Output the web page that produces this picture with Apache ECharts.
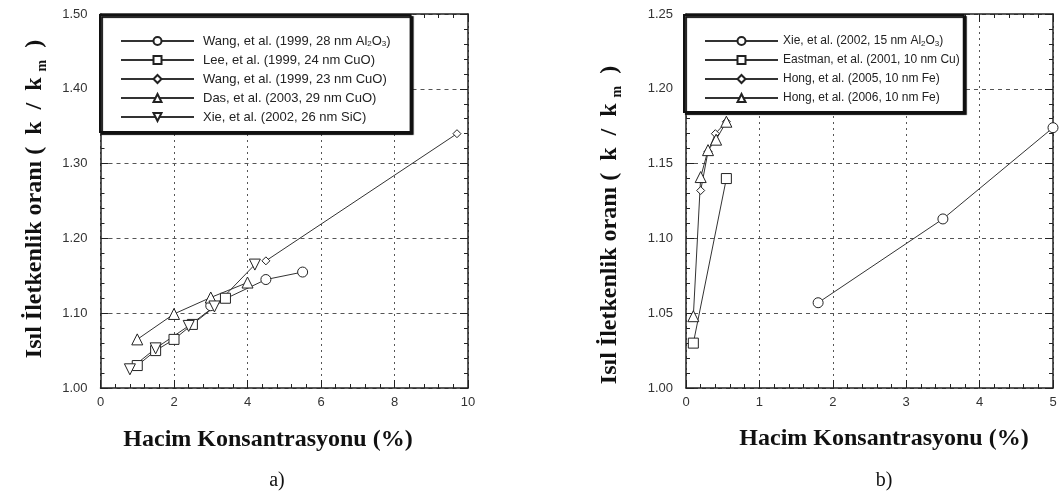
<!DOCTYPE html>
<html><head><meta charset="utf-8">
<script src="https://cdn.jsdelivr.net/npm/echarts@6/dist/echarts.min.js"></script>
<style>html,body{margin:0;padding:0;background:#fff}#c{width:1060px;height:499px}</style>
</head><body><div id="c"></div>
<script>
// ---- data (x = volume %, y = k/km) ----
const wangAl2O3 = [[3.0,1.110],[4.5,1.145],[5.5,1.155]];
const leeCuO    = [[1.0,1.030],[1.5,1.050],[2.0,1.065],[2.5,1.085],[3.4,1.120]];
const wangCuO   = [[4.5,1.170],[9.7,1.340]];
const dasCuO    = [[1.0,1.065],[2.0,1.099],[3.0,1.121],[4.0,1.141]];
const xieSiC    = [[0.8,1.025],[1.5,1.053],[2.4,1.083],[3.1,1.109],[4.2,1.165]];

const xieAl2O3   = [[1.8,1.057],[3.5,1.113],[5.0,1.174]];
const eastmanCu  = [[0.1,1.030],[0.55,1.140]];
const hong2005Fe = [[0.2,1.132],[0.3,1.158],[0.4,1.170],[0.55,1.178]];
const hong2006Fe = [[0.1,1.048],[0.2,1.141],[0.3,1.159],[0.41,1.166],[0.55,1.178]];

const namesA = ['Wang, et al. (1999, 28 nm Al2O3)','Lee, et al. (1999, 24 nm CuO)','Wang, et al. (1999, 23 nm CuO)','Das, et al. (2003, 29 nm CuO)','Xie, et al. (2002, 26 nm SiC)'];
const namesB = ['Xie, et al. (2002, 15 nm Al2O3)','Eastman, et al. (2001, 10 nm Cu)','Hong, et al. (2005, 10 nm Fe)','Hong, et al. (2006, 10 nm Fe)'];

const yTitle = 'Isıl İletkenlik oranı (  k  /  k ';
const xTitle = 'Hacim Konsantrasyonu (%)';

const chart = echarts.init(document.getElementById('c'));
const INK = '#222';

function ax(kind, gridIndex, min, max, interval, pos, main, dec) {
  return {
    type: 'value', gridIndex, position: pos, min, max, interval,
    axisLine: {show: true, onZero: false, lineStyle: {color: INK, width: 1.5}},
    axisTick: {show: true, inside: true, length: 8, lineStyle: {color: INK, width: 1}},
    minorTick: {show: true, splitNumber: 5, length: 4, lineStyle: {color: INK, width: 1}},
    axisLabel: {show: main, color: '#333', fontSize: 13, fontFamily: 'Liberation Sans, Arial',
      margin: kind === 'x' ? 8 : 13,
      formatter: v => dec ? v.toFixed(dec) : String(Math.round(v))},
    splitLine: {show: main, lineStyle: {color: '#555', width: 1, type: kind === 'x' ? [2, 4] : [4, 4]}},
    minorSplitLine: {show: false}
  };
}

function ser(name, data, xi, yi, symbol, size, rot) {
  return {
    name, type: 'line', data, xAxisIndex: xi, yAxisIndex: yi,
    symbol, symbolSize: size, symbolRotate: rot || 0, showAllSymbol: true,
    lineStyle: {color: '#333', width: 1},
    itemStyle: {color: '#fff', borderColor: '#222', borderWidth: 1},
    emphasis: {disabled: true}, z: 3
  };
}

const legendFmt = n => n.replace('Al2O3', 'Al{s|2}O{s|3}');
function legend(data, left, padding, fs, tpad) {
  return {
    data, orient: 'vertical', left, top: 15, padding, itemGap: 5,
    itemWidth: 73, itemHeight: 10, selectedMode: false,
    backgroundColor: '#fff', borderColor: '#111', borderWidth: 2,
    shadowColor: '#111', shadowOffsetX: 2, shadowOffsetY: 2, shadowBlur: 1,
    formatter: legendFmt,
    textStyle: {color: '#222', fontSize: fs, fontFamily: 'Liberation Sans, Arial', lineHeight: 14, padding: [0, 0, 0, tpad],
      rich: {s: {fontSize: 8, lineHeight: 6, verticalAlign: 'bottom', fontFamily: 'Liberation Sans, Arial', color: '#222'}}}
  };
}

const yRich = {m: {fontSize: 14, fontWeight: 'bold', fontFamily: 'Liberation Serif, serif', lineHeight: 12, verticalAlign: 'bottom', fill: '#111'}};
function yTitleEl(x, y) {
  return {type: 'text', x, y, rotation: Math.PI / 2, z: 10,
    style: {text: yTitle + '{m|m}  )', fontSize: 24, fontWeight: 'bold', fontFamily: 'Liberation Serif, serif',
      fill: '#111', align: 'center', verticalAlign: 'middle', lineHeight: 28, rich: yRich}};
}
function txt(x, y, text, size, bold) {
  return {type: 'text', x, y, z: 10,
    style: {text, fontSize: size, fontWeight: bold ? 'bold' : 'normal', fontFamily: 'Liberation Serif, serif',
      fill: '#111', align: 'center', verticalAlign: 'middle'}};
}

chart.setOption({
  animation: false,
  backgroundColor: '#fff',
  grid: [
    {left: 100.5, top: 14, width: 367.5, height: 374},
    {left: 686, top: 14, width: 367, height: 374}
  ],
  xAxis: [
    ax('x', 0, 0, 10, 2, 'bottom', true, 0),
    ax('x', 0, 0, 10, 2, 'top', false, 0),
    ax('x', 1, 0, 5, 1, 'bottom', true, 0),
    ax('x', 1, 0, 5, 1, 'top', false, 0)
  ],
  yAxis: [
    ax('y', 0, 1.0, 1.5, 0.1, 'left', true, 2),
    ax('y', 0, 1.0, 1.5, 0.1, 'right', false, 2),
    ax('y', 1, 1.0, 1.25, 0.05, 'left', true, 2),
    ax('y', 1, 1.0, 1.25, 0.05, 'right', false, 2)
  ],
  legend: [
    legend(namesA, 100, [19, 20, 8, 20], 13, 4),
    legend(namesB, 684, [19, 4, 7, 20], 12, 0)
  ],
  series: [
    ser(namesA[0], wangAl2O3, 0, 0, 'circle', 10),
    ser(namesA[1], leeCuO, 0, 0, 'rect', 10),
    ser(namesA[2], wangCuO, 0, 0, 'diamond', 8),
    ser(namesA[3], dasCuO, 0, 0, 'triangle', 11),
    ser(namesA[4], xieSiC, 0, 0, 'triangle', 11, 180),
    ser(namesB[0], xieAl2O3, 2, 2, 'circle', 10),
    ser(namesB[1], eastmanCu, 2, 2, 'rect', 10),
    ser(namesB[2], hong2005Fe, 2, 2, 'diamond', 8),
    ser(namesB[3], hong2006Fe, 2, 2, 'triangle', 11)
  ],
  graphic: [
    yTitleEl(35, 199),
    yTitleEl(610, 225),
    txt(268, 440, xTitle, 24, true),
    txt(884, 439, xTitle, 24, true),
    txt(277, 481, 'a)', 20, false),
    txt(884, 481, 'b)', 20, false)
  ]
});
</script></body></html>
